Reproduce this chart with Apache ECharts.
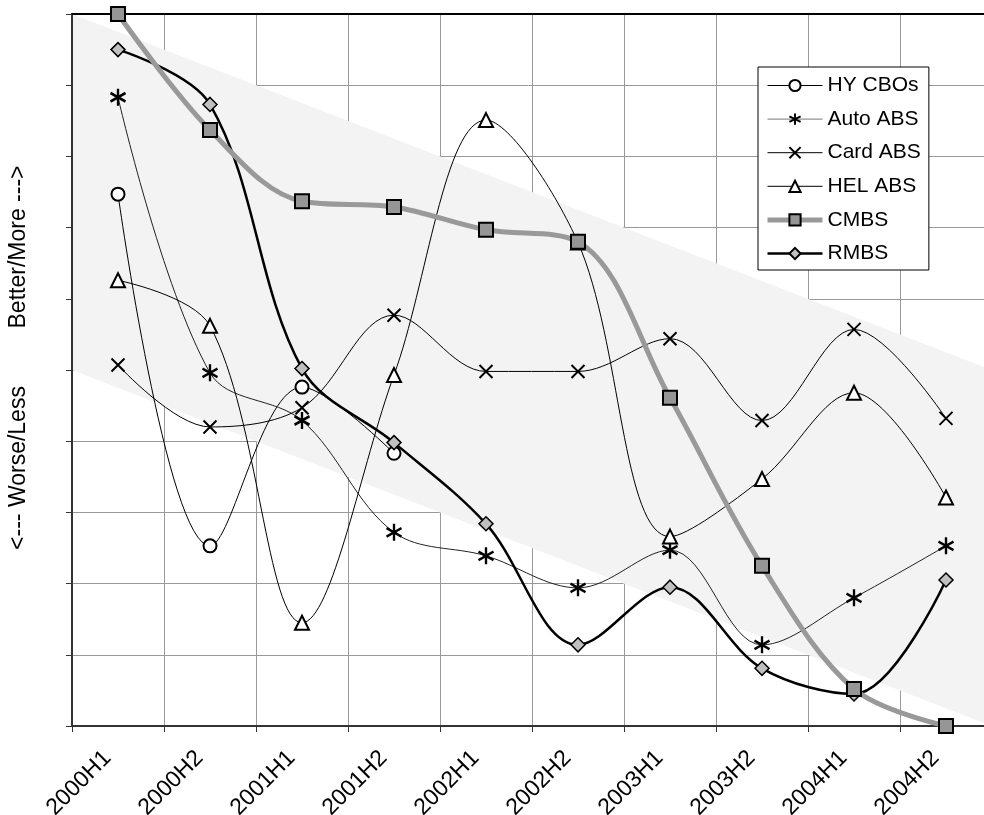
<!DOCTYPE html>
<html>
<head>
<meta charset="utf-8">
<script src="https://cdn.jsdelivr.net/npm/echarts@6/dist/echarts.min.js"></script>
<style>
  html, body { margin: 0; padding: 0; background: #fff; }
  #chart { width: 984px; height: 815px; }
</style>
</head>
<body>
<div id="chart"></div>
<script>
// Half-year periods along the horizontal axis
const categories = ['2000H1', '2000H2', '2001H1', '2001H2', '2002H1',
                    '2002H2', '2003H1', '2003H2', '2004H1', '2004H2'];

// Relative score per sector (0 = worse/less, 10 = better/more)
const hyCbos  = [7.47, 2.53, 4.76, 3.83];
const autoAbs = [8.83, 4.96, 4.29, 2.72, 2.39, 1.94, 2.47, 1.14, 1.80, 2.53];
const cardAbs = [5.07, 4.20, 4.47, 5.77, 4.98, 4.98, 5.44, 4.29, 5.57, 4.32];
const helAbs  = [6.26, 5.62, 1.45, 4.93, 8.51, 6.79, 2.66, 3.47, 4.68, 3.21];
const cmbs    = [10.0, 8.37, 7.37, 7.29, 6.97, 6.80, 4.61, 2.25, 0.52, 0.00];
const rmbs    = [9.50, 8.73, 5.02, 3.98, 2.84, 1.14, 1.95, 0.81, 0.45, 2.05];

// Shaded trend band corners, in axis units [period index, score]
const bandCorners = [[0, 10], [10, 5], [10, 0], [0, 5]];

const FONT = 'Liberation Sans, Arial, sans-serif';

// each value sits in the middle of its half-year slot
const toPoints = arr => arr.map((v, i) => [i + 0.5, v]);

const SYM_ASTERISK = 'path://M6 0L6 14M0 3.5L12 10.5M0 10.5L12 3.5';
const SYM_CROSS = 'path://M0 0L10 10M10 0L0 10';

const thinLine = (name, data, symbol, size, fill, lineWidth, lineColor, borderWidth) => ({
  name, type: 'line', data: toPoints(data), smooth: 0.35, z: 5,
  symbol, symbolSize: size, showSymbol: true,
  lineStyle: { color: lineColor || '#000', width: lineWidth },
  itemStyle: { color: fill, borderColor: '#000', borderWidth: borderWidth || 2 },
  emphasis: { disabled: true }
});

const chart = echarts.init(document.getElementById('chart'), null, { renderer: 'canvas' });

chart.setOption({
  animation: false,
  backgroundColor: '#fff',
  grid: { left: 72, top: 14, width: 920, height: 712, show: false,
          containLabel: false, outerBoundsMode: 'none' },
  xAxis: [
    { // grid lines only
      type: 'value', min: 0, max: 10, interval: 1, position: 'bottom', z: 0,
      axisLine: { show: false }, axisTick: { show: false }, axisLabel: { show: false },
      splitLine: { show: true, lineStyle: { color: '#999', width: 1 } }
    },
    { // axis line, ticks and period labels
      type: 'value', min: 0, max: 10, interval: 1, position: 'bottom', z: 3,
      axisLine: { show: true, onZero: false, lineStyle: { color: '#333', width: 2 } },
      axisTick: { show: true, length: 6, lineStyle: { color: '#333', width: 1 } },
      splitLine: { show: false },
      axisLabel: {
        show: true, rotate: 45, margin: 50, align: 'center', verticalAlign: 'top',
        lineHeight: 20,
        fontFamily: FONT, fontSize: 23, color: '#000',
        formatter: v => categories[Math.round(v)] || ''
      }
    },
    { // top frame line
      type: 'value', min: 0, max: 10, interval: 1, position: 'top', z: 3,
      axisLine: { show: true, onZero: false, lineStyle: { color: '#000', width: 2 } },
      axisTick: { show: false }, axisLabel: { show: false }, splitLine: { show: false }
    }
  ],
  yAxis: [
    {
      type: 'value', min: 0, max: 10, interval: 1, position: 'left', z: 0,
      axisLine: { show: false }, axisTick: { show: false }, axisLabel: { show: false },
      splitLine: { show: true, lineStyle: { color: '#999', width: 1 } }
    },
    {
      type: 'value', min: 0, max: 10, interval: 1, position: 'left', z: 3,
      axisLine: { show: true, onZero: false, lineStyle: { color: '#333', width: 2 } },
      axisTick: { show: true, length: 6, lineStyle: { color: '#333', width: 1 } },
      axisLabel: { show: false }, splitLine: { show: false }
    }
  ],
  legend: {
    orient: 'vertical', left: 758, top: 67,
    backgroundColor: '#fff', borderColor: '#000', borderWidth: 1,
    padding: [8, 8, 6, 7],
    itemWidth: 55, itemHeight: 14, itemGap: 12.6,
    textStyle: { fontFamily: FONT, fontSize: 21, color: '#000' },
    data: [
      { name: 'HY CBOs', lineStyle: { width: 1 } },
      { name: 'Auto ABS', lineStyle: { width: 1, color: '#777' } },
      { name: 'Card ABS', lineStyle: { width: 1 } },
      { name: 'HEL ABS', lineStyle: { width: 1 } },
      { name: 'CMBS', lineStyle: { width: 5 } },
      { name: 'RMBS', lineStyle: { width: 2.5 } }
    ]
  },
  graphic: [
    { type: 'text', x: 19, y: 247, rotation: Math.PI / 2,
      style: { text: 'Better/More --->', font: '23px ' + FONT, fill: '#000',
               textAlign: 'center', textVerticalAlign: 'middle' } },
    { type: 'text', x: 19, y: 468, rotation: Math.PI / 2,
      style: { text: '<--- Worse/Less', font: '23px ' + FONT, fill: '#000',
               textAlign: 'center', textVerticalAlign: 'middle' } }
  ],
  series: [
    {
      name: 'band', type: 'custom', z: 1, silent: true,
      data: [0],
      renderItem: (params, api) => ({
        type: 'polygon',
        shape: { points: bandCorners.map(p => api.coord(p)) },
        style: { fill: '#f3f3f3' }
      })
    },
    thinLine('HY CBOs', hyCbos, 'circle', 13, '#fff', 1),
    thinLine('Auto ABS', autoAbs, SYM_ASTERISK, [15, 17], '#000', 1, '#222', 2.5),
    thinLine('Card ABS', cardAbs, SYM_CROSS, 13, '#000', 1),
    thinLine('HEL ABS', helAbs, 'triangle', 14, '#fff', 1),
    {
      name: 'CMBS', type: 'line', data: toPoints(cmbs), smooth: 0.35, z: 6,
      symbol: 'rect', symbolSize: 14, showSymbol: true,
      lineStyle: { color: '#999', width: 5 },
      itemStyle: { color: '#969696', borderColor: '#000', borderWidth: 2 },
      emphasis: { disabled: true }
    },
    {
      name: 'RMBS', type: 'line', data: toPoints(rmbs), smooth: 0.35, z: 5,
      symbol: 'diamond', symbolSize: 14, showSymbol: true,
      lineStyle: { color: '#000', width: 2.5 },
      itemStyle: { color: '#c0c0c0', borderColor: '#000', borderWidth: 1.5 },
      emphasis: { disabled: true }
    }
  ]
});
</script>
</body>
</html>
